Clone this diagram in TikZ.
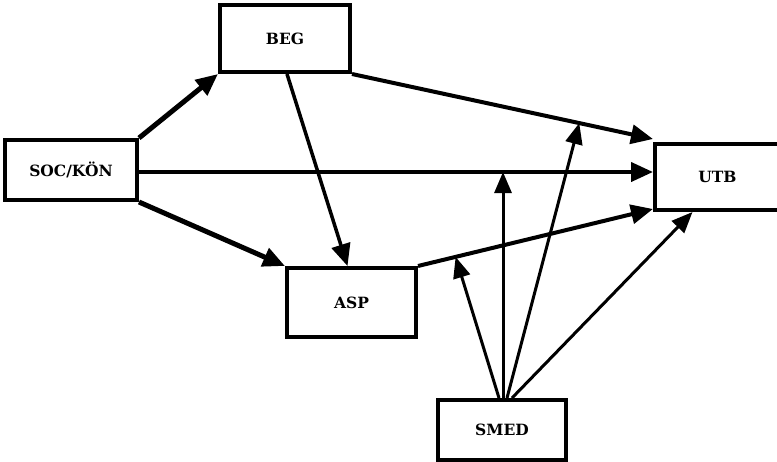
\documentclass[tikz,border=0pt]{standalone}
\usepackage{fontspec}
\setmainfont{DejaVu Serif}
\usetikzlibrary{arrows.meta,calc}
\begin{document}
\begin{tikzpicture}[x=1pt,y=-1pt,
  box/.style={draw,line width=4pt,inner sep=0pt,font=\bfseries\fontsize{15.5}{17}\selectfont},
  arr/.style={line width=4pt,-{Triangle[length=22pt,width=19pt]}},
  thinarr/.style={line width=3pt,-{Triangle[length=21pt,width=17pt]}}]
\useasboundingbox (0,0) rectangle (777,461);
\clip (0,0) rectangle (777,461);
\node[box,minimum width=132pt,minimum height=60pt] (SOC) at (71,170) {\raisebox{-2pt}{SOC/KÖN}};
\node[box,minimum width=130pt,minimum height=67pt] (BEG) at (285,38.5) {\raisebox{-6pt}{BEG}};
\node[box,minimum width=129pt,minimum height=69pt] (ASP) at (351.5,302.5) {ASP};
\node[box,minimum width=125pt,minimum height=66pt] (UTB) at (717.5,177) {UTB};
\node[box,minimum width=128pt,minimum height=60pt] (SMED) at (502,430) {\raisebox{-4pt}{SMED}};
% connectors
\draw[arr,line width=5pt] (SOC.north east) -- (BEG.south west);
\draw[arr] ([yshift=-2pt]SOC.east) -- ([yshift=-2pt]SOC.east -| UTB.west);
\draw[arr,line width=5pt] (SOC.south east) -- (ASP.north west);
\draw[arr,line width=3.5pt] ([xshift=2pt]BEG.south) -- ([xshift=-4pt]ASP.north);
\draw[arr] (BEG.south east) -- ([yshift=3pt]UTB.north west);
\draw[arr] (ASP.north east) -- ([yshift=3pt]UTB.south west);
% points on lines
\coordinate (p7) at ($(ASP.north east)!0.16!([yshift=3pt]UTB.south west)$);
\coordinate (p8) at ($([yshift=-2pt]SOC.east)!0.71!([yshift=-2pt]SOC.east -| UTB.west)$);
\coordinate (p9) at ($(BEG.south east)!0.755!([yshift=3pt]UTB.north west)$);
\coordinate (p10) at ([xshift=-25pt]UTB.south);
\coordinate (s1) at ([xshift=-3pt]SMED.north);
\coordinate (s2) at ([xshift=1pt]SMED.north);
\coordinate (s3) at ([xshift=5pt]SMED.north);
\coordinate (s4) at ([xshift=10pt]SMED.north);
\draw[thinarr] (s1) -- (p7);
\draw[thinarr] (s2) -- (s2 |- p8);
\draw[thinarr] (s3) -- (p9);
\draw[thinarr] (s4) -- (p10);
\end{tikzpicture}
\end{document}
